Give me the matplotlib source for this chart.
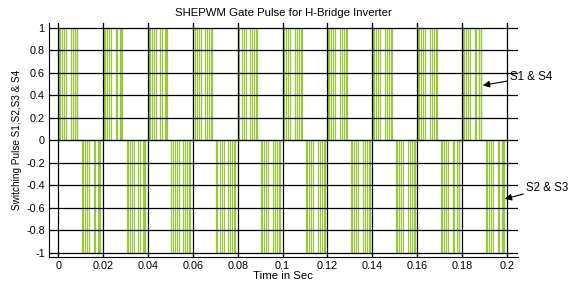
import numpy as np
import matplotlib.pyplot as plt

plt.rcParams['font.family'] = ['Liberation Sans', 'DejaVu Sans']

# switching edges inside one period (s)
pos_edges = [0.0003, 0.0008, 0.0017, 0.0026, 0.0035, 0.0056, 0.0064, 0.0074, 0.0082, 0.0086]
neg_edges = [0.0105, 0.0110, 0.0119, 0.0128, 0.0137, 0.0158, 0.0166, 0.0176, 0.0184, 0.0188]
period = 0.02
n_periods = 10

xticks = [0, 0.02, 0.04, 0.06, 0.08, 0.1, 0.12, 0.14, 0.16, 0.18, 0.2]
xtick_labels = ['0', '0.02', '0.04', '0.06', '0.08', '0.1', '0.12', '0.14', '0.16', '0.18', '0.2']
yticks = [-1, -0.8, -0.6, -0.4, -0.2, 0, 0.2, 0.4, 0.6, 0.8, 1]
ytick_labels = ['-1', '-0.8', '-0.6', '-0.4', '-0.2', '0', '0.2', '0.4', '0.6', '0.8', '1']


def gate(edges, level):
    t = [0.0]
    v = [0.0]
    for k in range(n_periods):
        on = False
        for e in edges:
            te = k * period + e
            t += [te, te]
            v += [0, level] if not on else [level, 0]
            on = not on
    t.append(n_periods * period)
    v.append(0.0)
    return np.array(t), np.array(v)


fig = plt.figure(figsize=(5.69, 2.84), dpi=100)
ax = fig.add_axes([0.086, 0.095, 0.824, 0.824])

green = '#9cc63e'
t1, v1 = gate(pos_edges, 1)
t2, v2 = gate(neg_edges, -1)
ax.plot(t1, v1, color=green, lw=0.9)
ax.plot(t2, v2, color=green, lw=0.9)

ax.set_xlim(-0.0041, 0.2048)
ax.set_ylim(-1.036, 1.044)
ax.set_xticks(xticks)
ax.set_xticklabels(xtick_labels)
ax.set_yticks(yticks)
ax.set_yticklabels(ytick_labels)
ax.grid(True, color='black', lw=0.9)
ax.set_axisbelow(False)
ax.tick_params(direction='in', labelsize=7.8, length=3, top=True, pad=3)
ax.spines['top'].set_visible(False)
ax.spines['right'].set_visible(False)

ax.set_title('SHEPWM Gate Pulse for H-Bridge Inverter', fontsize=8.2, pad=5)
ax.set_xlabel('Time in Sec', fontsize=8.2, labelpad=0)
ax.set_ylabel('Switching Pulse S1,S2,S3 & S4', fontsize=7.2, labelpad=3)

ax.annotate('S1 & S4', xy=(0.1892, 0.49), xytext=(0.2015, 0.565), fontsize=8.3,
            va='center', annotation_clip=False,
            arrowprops=dict(arrowstyle='-|>', color='black', lw=0.8, mutation_scale=10,
                            shrinkA=0, shrinkB=0))
ax.annotate('S2 & S3', xy=(0.199, -0.52), xytext=(0.2085, -0.42), fontsize=8.3,
            va='center', annotation_clip=False,
            arrowprops=dict(arrowstyle='-|>', color='black', lw=0.8, mutation_scale=10,
                            shrinkA=0, shrinkB=0))

fig.savefig('out.png', dpi=100)
